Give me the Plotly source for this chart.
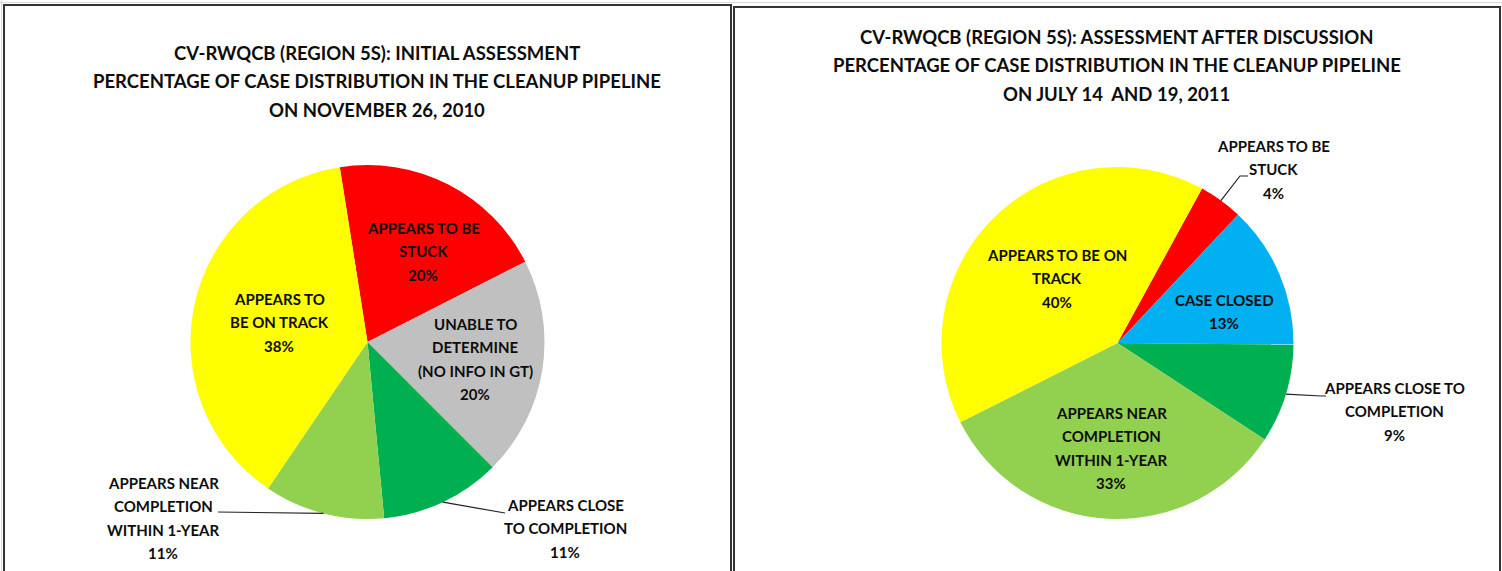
import math
import plotly.graph_objects as go

W, H = 1502, 571

# ---------------- data ----------------
left_title = [
    "CV-RWQCB (REGION 5S): INITIAL ASSESSMENT",
    "PERCENTAGE OF CASE DISTRIBUTION IN THE CLEANUP PIPELINE",
    "ON NOVEMBER 26, 2010",
]
left_labels = [
    "APPEARS TO BE|STUCK",
    "UNABLE TO|DETERMINE|(NO INFO IN GT)",
    "APPEARS CLOSE|TO COMPLETION",
    "APPEARS NEAR|COMPLETION|WITHIN 1-YEAR",
    "APPEARS TO|BE ON TRACK",
]
left_values = [20, 20, 11, 11, 38]

right_title = [
    "CV-RWQCB (REGION 5S): ASSESSMENT AFTER DISCUSSION",
    "PERCENTAGE OF CASE DISTRIBUTION IN THE CLEANUP PIPELINE",
    "ON JULY 14  AND 19, 2011",
]
right_labels = [
    "APPEARS TO BE|STUCK",
    "CASE CLOSED",
    "APPEARS CLOSE TO|COMPLETION",
    "APPEARS NEAR|COMPLETION|WITHIN 1-YEAR",
    "APPEARS TO BE ON|TRACK",
]
right_values = [4, 13, 9, 33, 40]

# ---------------- styles / layout ----------------
left_colors = ["#FF0000", "#C0C0C0", "#00B050", "#92D050", "#FFFF00"]
right_colors = ["#FF0000", "#00B0F0", "#00B050", "#92D050", "#FFFF00"]

FONT = "Lato, Open Sans, sans-serif"
TXT = "#0d0d0d"
TITLE_SIZE = 18.5
LABEL_SIZE = 15

left_geom = dict(cx=367.5, cy=342, r=177, rot=-9)
right_geom = dict(cx=1117.5, cy=343, r=176, rot=28.7)

# label block positions (pixel center x, first-line y), leader path points
left_label_pos = [(423, 228), (475, 324), (565, 505), (163, 483), (279, 299)]
left_leaders = {2: [(505, 513)], 3: [(218, 512)]}
right_label_pos = [(1273, 146), (1224, 300), (1394, 388), (1111, 413), (1057, 255)]
right_leaders = {0: [(1240, 176), (1248, 176)], 2: [(1321, 396), (1326, 396)]}


def px(x):
    return x / W


def py(y):
    return 1 - y / H


fig = go.Figure()
annotations = []
shapes = []


def add_lines(lines, cx, y0, step, size):
    for i, t in enumerate(lines):
        annotations.append(dict(
            x=px(cx), y=py(y0 + i * step), xref="paper", yref="paper",
            text="<b>%s</b>" % t, showarrow=False, xanchor="center", yanchor="middle",
            font=dict(family=FONT, size=size, color=TXT),
        ))


def add_pie(labels, values, colors, geom, title, title_pos, label_pos, leaders):
    cx, cy, r, rot = geom["cx"], geom["cy"], geom["r"], geom["rot"]
    fig.add_trace(go.Pie(
        labels=[l.replace("|", " ") for l in labels],
        values=values,
        sort=False,
        direction="clockwise",
        rotation=rot,
        marker=dict(colors=colors, line=dict(width=0)),
        textinfo="none",
        hoverinfo="label+percent",
        showlegend=False,
        domain=dict(x=[px(cx - r), px(cx + r)], y=[py(cy + r), py(cy - r)]),
    ))
    add_lines(title, title_pos[0], title_pos[1], 28.3, TITLE_SIZE)
    total = float(sum(values))
    cum = 0.0
    for i, (lab, v) in enumerate(zip(labels, values)):
        lines = lab.split("|") + ["%d%%" % v]
        lx, ly = label_pos[i]
        add_lines(lines, lx, ly, 23.4, LABEL_SIZE)
        mid = math.radians(rot + (cum + v / 2.0) / total * 360.0)
        cum += v
        if i in leaders:
            sx = cx + r * math.sin(mid)
            sy = cy - r * math.cos(mid)
            pts = [(sx, sy)] + leaders[i]
            path = "M " + " L ".join("%f,%f" % (px(a), py(b)) for a, b in pts)
            shapes.append(dict(type="path", xref="paper", yref="paper", path=path,
                               line=dict(color="#222222", width=1.2)))


add_pie(left_labels, left_values, left_colors, left_geom, left_title, (377, 53),
        left_label_pos, left_leaders)
add_pie(right_labels, right_values, right_colors, right_geom, right_title, (1116.5, 37),
        right_label_pos, right_leaders)

# chart frames and faint worksheet gridline
shapes += [
    dict(type="line", xref="paper", yref="paper", x0=0, x1=1, y0=py(2.5), y1=py(2.5),
         line=dict(color="#D5D9E0", width=1)),
    dict(type="line", xref="paper", yref="paper", x0=px(1.5), x1=px(1.5), y0=0, y1=1,
         line=dict(color="#D5D9E0", width=1)),
    dict(type="rect", xref="paper", yref="paper", x0=px(4), x1=px(731), y0=py(5), y1=py(580),
         line=dict(color="#333333", width=2), fillcolor="rgba(0,0,0,0)"),
    dict(type="rect", xref="paper", yref="paper", x0=px(734), x1=px(1500), y0=py(7), y1=py(580),
         line=dict(color="#333333", width=2), fillcolor="rgba(0,0,0,0)"),
]

fig.update_layout(
    width=W, height=H, autosize=False,
    margin=dict(l=0, r=0, t=0, b=0),
    paper_bgcolor="white", plot_bgcolor="white",
    annotations=annotations, shapes=shapes,
    showlegend=False,
)

fig.write_html("out.html", config={"displayModeBar": False},
               post_script="document.body.style.margin='0';")
